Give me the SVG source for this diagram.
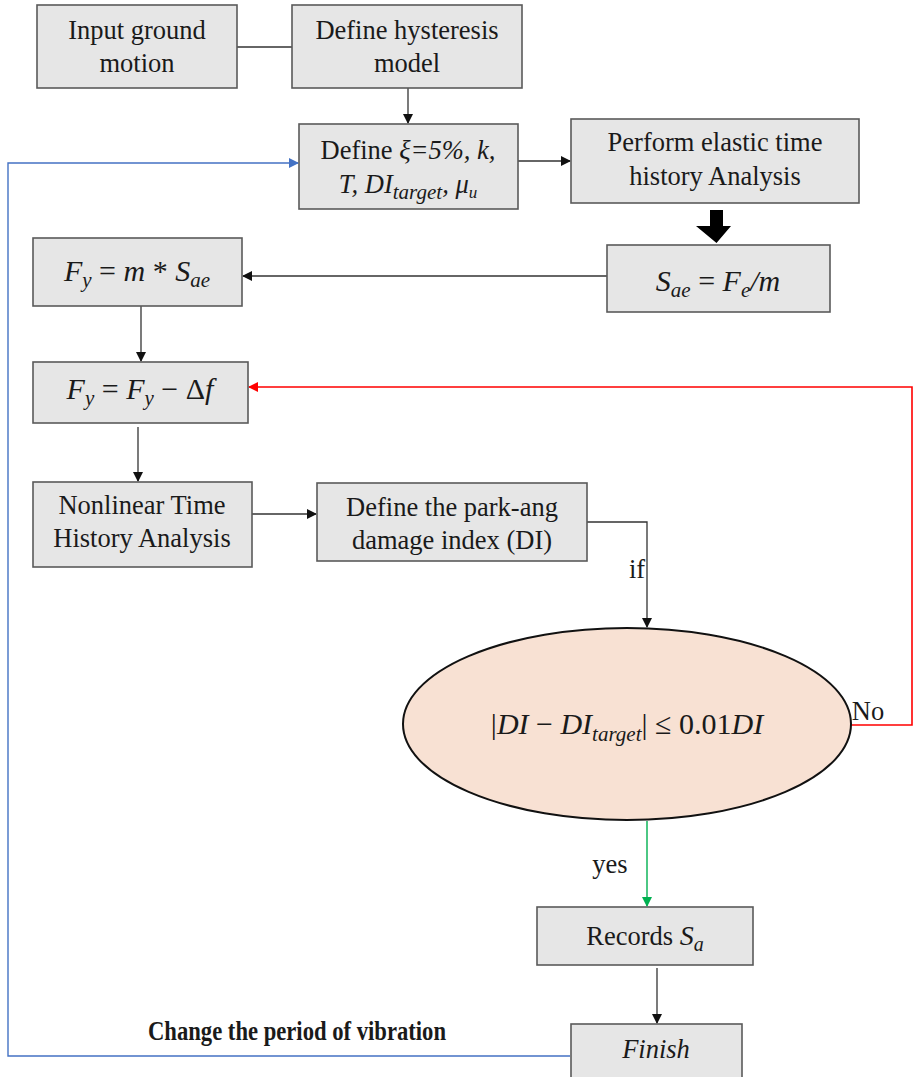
<svg xmlns="http://www.w3.org/2000/svg" width="913" height="1077" viewBox="0 0 913 1077">
<defs>
<style>
.box{fill:#e6e6e6;stroke:#5a5a5a;stroke-width:1.6}
.t{font-family:"Liberation Serif","Times New Roman",serif;font-size:26.5px;fill:#1a1a1a;text-anchor:middle}
.m{font-family:"Liberation Serif","Times New Roman",serif;font-size:30px;font-style:italic;fill:#1a1a1a;text-anchor:middle}
.i{font-style:italic}
.n{font-style:normal}
.s{font-size:21px}
.c{fill:none;stroke:#333;stroke-width:1.3}
</style>
<marker id="ab" markerWidth="10" markerHeight="10" refX="9" refY="5" orient="auto" markerUnits="userSpaceOnUse"><path d="M0,0 L10,5 L0,10 z" fill="#111"/></marker>
<marker id="ar" markerWidth="10" markerHeight="10" refX="9" refY="5" orient="auto" markerUnits="userSpaceOnUse"><path d="M0,0 L10,5 L0,10 z" fill="#ff0000"/></marker>
<marker id="ag" markerWidth="10" markerHeight="10" refX="9" refY="5" orient="auto" markerUnits="userSpaceOnUse"><path d="M0,0 L10,5 L0,10 z" fill="#00b050"/></marker>
<marker id="abl" markerWidth="10" markerHeight="10" refX="9" refY="5" orient="auto" markerUnits="userSpaceOnUse"><path d="M0,0 L10,5 L0,10 z" fill="#4472c4"/></marker>
</defs>
<rect width="913" height="1077" fill="#fff"/>

<g id="connectors">
<line class="c" x1="237" y1="47" x2="292" y2="47"/>
<line class="c" x1="408" y1="88" x2="408" y2="123" marker-end="url(#ab)"/>
<line class="c" x1="518" y1="161" x2="570" y2="161" marker-end="url(#ab)"/>
<polygon points="710,210 723,210 723,226 731,226 716.5,243 696,226 710,226" fill="#000"/>
<line class="c" x1="607" y1="276" x2="243" y2="276" marker-end="url(#ab)"/>
<line class="c" x1="141" y1="306" x2="141" y2="361" marker-end="url(#ab)"/>
<line class="c" x1="138" y1="427" x2="138" y2="481" marker-end="url(#ab)"/>
<line class="c" x1="252" y1="514" x2="316" y2="514" marker-end="url(#ab)"/>
<polyline class="c" points="587,522 647,522 647,627" marker-end="url(#ab)"/>
<polyline fill="none" stroke="#ff0000" stroke-width="1.6" points="850,725 912,725 912,387 249,387" marker-end="url(#ar)"/>
<line stroke="#00b050" stroke-width="1.4" x1="647" y1="821" x2="647" y2="906" marker-end="url(#ag)"/>
<line class="c" x1="657" y1="968" x2="657" y2="1023" marker-end="url(#ab)"/>
<polyline fill="none" stroke="#4472c4" stroke-width="1.4" points="570,1056 8,1056 8,163 298,163" marker-end="url(#abl)"/>
</g>

<g id="n1"><rect class="box" x="37" y="5" width="200" height="83"/>
<text class="t" x="137" y="39">Input ground</text><text class="t" x="137" y="72">motion</text></g>

<g id="n2"><rect class="box" x="292" y="5" width="230" height="83"/>
<text class="t" x="407" y="39">Define hysteresis</text><text class="t" x="407" y="72">model</text></g>

<g id="n3"><rect class="box" x="299" y="124" width="219" height="85"/>
<text class="t" x="408" y="159">Define <tspan class="i">ξ=5%, k,</tspan></text>
<text class="t" x="408" y="193"><tspan class="i">T, DI<tspan class="s" dy="6">target</tspan><tspan dy="-6">, μ</tspan><tspan font-size="17" dy="5">u</tspan></tspan></text></g>

<g id="n4"><rect class="box" x="571" y="119" width="288" height="84"/>
<text class="t" x="715" y="151">Perform elastic time</text><text class="t" x="715" y="185">history Analysis</text></g>

<g id="n5"><rect class="box" x="607" y="245" width="223" height="67"/>
<text class="m" x="718" y="291">S<tspan class="s" dy="6">ae</tspan><tspan class="n" dy="-6"> = </tspan>F<tspan class="s" dy="6">e</tspan><tspan dy="-6">/m</tspan></text></g>

<g id="n6"><rect class="box" x="33" y="238" width="209" height="68"/>
<text class="m" x="137" y="281">F<tspan class="s" dy="6">y</tspan><tspan class="n" dy="-6"> = </tspan>m<tspan class="n"> * </tspan>S<tspan class="s" dy="6">ae</tspan></text></g>

<g id="n7"><rect class="box" x="33" y="362" width="215" height="61"/>
<text class="m" x="140" y="399">F<tspan class="s" dy="6">y</tspan><tspan class="n" dy="-6"> = </tspan>F<tspan class="s" dy="6">y</tspan><tspan class="n" dy="-6"> − Δ</tspan>f</text></g>

<g id="n8"><rect class="box" x="33" y="482" width="219" height="85"/>
<text class="t" x="142" y="514">Nonlinear Time</text><text class="t" x="142" y="547">History Analysis</text></g>

<g id="n9"><rect class="box" x="317" y="483" width="270" height="78"/>
<text class="t" x="452" y="516">Define the park-ang</text><text class="t" x="452" y="549">damage index (DI)</text></g>

<g id="n10"><ellipse cx="627" cy="724" rx="224" ry="96" fill="#f8e1d3" stroke="#111" stroke-width="2"/>
<text class="m" x="627" y="734" font-size="33"><tspan class="n">|</tspan>DI<tspan class="n"> − </tspan>DI<tspan class="s" dy="7">target</tspan><tspan class="n" dy="-7">| ≤ 0.01</tspan>DI</text></g>

<g id="n11"><rect class="box" x="537" y="907" width="216" height="58"/>
<text class="t" x="645" y="945">Records <tspan class="i" font-size="28">S</tspan><tspan class="i" font-size="20" dy="6">a</tspan></text></g>

<g id="n12"><rect class="box" x="571" y="1024" width="171" height="60"/>
<text class="t i" x="656" y="1058" font-size="27">Finish</text></g>

<g id="labels">
<text class="t" x="637" y="578" text-anchor="end">if</text>
<text class="t" x="868" y="720" text-anchor="start">No</text>
<text class="t" x="610" y="873">yes</text>
<text class="t" x="297" y="1040" font-weight="bold" font-size="21" textLength="298" lengthAdjust="spacingAndGlyphs">Change the period of vibration</text>
</g>
</svg>
